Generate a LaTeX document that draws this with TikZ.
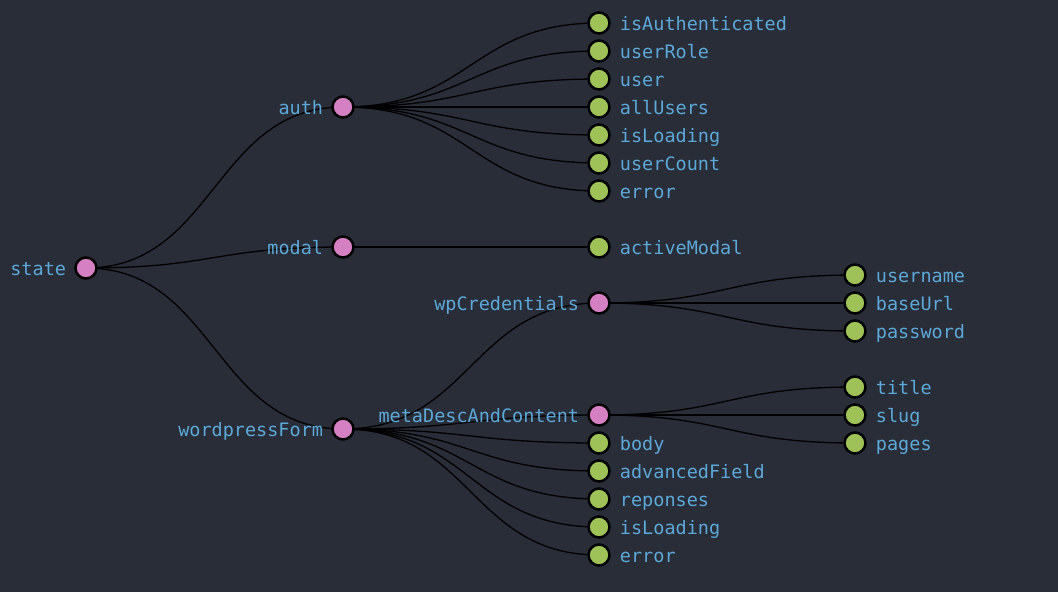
\documentclass[tikz,border=0pt]{standalone}
\usepackage{fontspec}
\setmonofont{DejaVu Sans Mono}
\usetikzlibrary{calc}
\definecolor{bg}{RGB}{41,45,56}
\definecolor{inner}{RGB}{214,128,196}
\definecolor{leaf}{RGB}{158,193,88}
\definecolor{txt}{RGB}{92,168,216}
\pgfdeclarelayer{back}
\pgfdeclarelayer{edges}
\pgfsetlayers{back,edges,main}
\tikzset{
  base/.style={circle, draw=black, line width=2.5pt, minimum size=21pt, inner sep=0pt},
  branch/.style={base, fill=inner},
  tip/.style={base, fill=leaf},
  lbl/.style={text=txt, font=\ttfamily\fontsize{18.5}{20}\selectfont, inner sep=0pt,
              text height=18pt, text depth=4pt},
  lft/.style={label={[lbl, label distance=8pt]left:#1}},
  rgt/.style={label={[lbl, label distance=9pt]right:#1}},
  link/.style={to path={let \p1=(\tikztostart), \p2=(\tikztotarget) in
     .. controls ({(\x1+\x2)/2},\y1) and ({(\x1+\x2)/2},\y2) .. (\tikztotarget)}},
  wire/.style={draw=black, line width=1.3pt}
}
\begin{document}
\begin{tikzpicture}[x=1pt, y=-1pt]
\begin{pgfonlayer}{back}
\fill[bg] (0,0) rectangle (1058,592);
\end{pgfonlayer}
\useasboundingbox (0,0) rectangle (1058,592);

% root and first level
\node[branch, lft=state] (state) at (86,268) {};
\node[branch, lft=auth] (auth) at (343,107) {};
\node[branch, lft=modal] (modal) at (343,247) {};
\node[branch, lft=wordpressForm] (wpf) at (343,429) {};

% auth fields
\node[tip, rgt=isAuthenticated] (a1) at (599,23) {};
\node[tip, rgt=userRole] (a2) at (599,51) {};
\node[tip, rgt=user] (a3) at (599,79) {};
\node[tip, rgt=allUsers] (a4) at (599,107) {};
\node[tip, rgt=isLoading] (a5) at (599,135) {};
\node[tip, rgt=userCount] (a6) at (599,163) {};
\node[tip, rgt=error] (a7) at (599,191) {};

% modal field
\node[tip, rgt=activeModal] (m1) at (599,247) {};

% wordpressForm fields
\node[branch, lft=wpCredentials] (cred) at (599,303) {};
\node[branch, lft=metaDescAndContent] (meta) at (599,415) {};
\node[tip, rgt=body] (w1) at (599,443) {};
\node[tip, rgt=advancedField] (w2) at (599,471) {};
\node[tip, rgt=reponses] (w3) at (599,499) {};
\node[tip, rgt=isLoading] (w4) at (599,527) {};
\node[tip, rgt=error] (w5) at (599,555) {};

% wpCredentials fields
\node[tip, rgt=username] (c1) at (855,275) {};
\node[tip, rgt=baseUrl] (c2) at (855,303) {};
\node[tip, rgt=password] (c3) at (855,331) {};

% metaDescAndContent fields
\node[tip, rgt=title] (t1) at (855,387) {};
\node[tip, rgt=slug] (t2) at (855,415) {};
\node[tip, rgt=pages] (t3) at (855,443) {};

% connectors sit beneath the circles
\begin{pgfonlayer}{edges}
\foreach \src/\dst in {state/auth, state/modal, state/wpf,
                   auth/a1, auth/a2, auth/a3, auth/a4, auth/a5, auth/a6, auth/a7,
                   modal/m1,
                   wpf/cred, wpf/meta, wpf/w1, wpf/w2, wpf/w3, wpf/w4, wpf/w5,
                   cred/c1, cred/c2, cred/c3,
                   meta/t1, meta/t2, meta/t3}
  \draw[wire] (\src.center) to[link] (\dst.center);
\end{pgfonlayer}
\end{tikzpicture}
\end{document}
